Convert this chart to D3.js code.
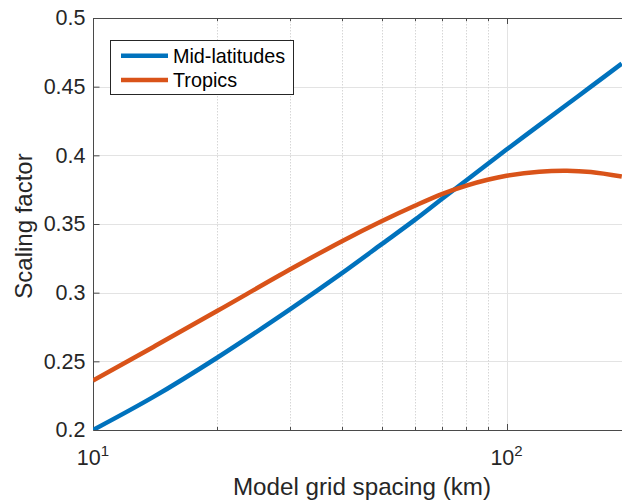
<!DOCTYPE html>
<html>
<head>
<meta charset="utf-8">
<script src="https://cdn.jsdelivr.net/npm/d3@7"></script>
<style>
  body { margin: 0; background: #fff; }
  svg { display: block; font-family: "Liberation Sans", Arial, sans-serif; }
</style>
</head>
<body>
<div class="chart"></div>
<script>
// values
const spacing = [10, 14, 20, 30, 40, 50, 60, 70, 80, 90, 100, 120, 140, 160, 190]
const midLat  = [0.200, 0.2241, 0.2528, 0.288, 0.3142, 0.3355, 0.353, 0.3686, 0.3819, 0.3937, 0.4042, 0.422, 0.437, 0.450, 0.4668]
const tropics = [0.236, 0.2605, 0.2868, 0.317, 0.3375, 0.3522, 0.3633, 0.372, 0.378, 0.3822, 0.3851, 0.3881, 0.3888, 0.3878, 0.3845]
const seriesNames = ["Mid-latitudes", "Tropics"]
const seriesColors = ["#0072BD", "#D95319"]
const yTicks = [0.2, 0.25, 0.3, 0.35, 0.4, 0.45, 0.5]
const xMajor = [10, 100]
const xMinor = [20, 30, 40, 50, 60, 70, 80, 90, 200]

var width = 622
var height = 503
var plotL = 93, plotR = 631, plotT = 18, plotB = 430
var ink = "#262626"
var axisGrey = "#4a4a4a"

var svg = d3.select(".chart").append("svg")
  .attr("width", width)
  .attr("height", height)

var x = d3.scaleLog().domain([10, 200]).range([plotL, plotR])
var y = d3.scaleLinear().domain([0.2, 0.5]).range([plotB, plotT])
var px = v => Math.round(x(v)) + 0.5
var py = v => Math.round(y(v)) + 0.5

// grid
var grid = svg.append("g")
grid.selectAll(".hgrid")
  .data(yTicks.slice(1, -1))
  .enter().append("line")
  .attr("x1", plotL).attr("x2", plotR)
  .attr("y1", py).attr("y2", py)
  .attr("stroke", "#e3e3e3")
grid.selectAll(".vminor")
  .data(xMinor)
  .enter().append("line")
  .attr("x1", px).attr("x2", px)
  .attr("y1", plotT).attr("y2", plotB)
  .attr("stroke", "#d6d6d6")
  .attr("stroke-dasharray", "1.5,1.5")
grid.selectAll(".vmajor")
  .data(xMajor.slice(1))
  .enter().append("line")
  .attr("x1", px).attr("x2", px)
  .attr("y1", plotT).attr("y2", plotB)
  .attr("stroke", "#e3e3e3")

// box
svg.append("path")
  .attr("d", `M${plotR},${plotT + 0.5}H${plotL + 0.5}V${plotB + 0.5}H${plotR}`)
  .attr("fill", "none")
  .attr("stroke", axisGrey)

// y axis
var yAxis = svg.append("g")
  .attr("transform", `translate(${plotL + 0.5},0)`)
  .call(d3.axisLeft(y).tickValues(yTicks).tickSize(-6).tickPadding(8).tickFormat(d => String(d)))
yAxis.select(".domain").remove()
yAxis.selectAll("line").attr("stroke", axisGrey)
yAxis.selectAll("text")
  .attr("fill", ink)
  .attr("font-size", 21.5)
  .attr("font-family", "Liberation Sans, Arial, sans-serif")

// x ticks, bottom and top, pointing inward
var ticks = xMajor.map(d => ({v: d, len: 6})).concat(xMinor.map(d => ({v: d, len: 3})))
svg.selectAll(".xtickb")
  .data(ticks)
  .enter().append("line")
  .attr("x1", d => px(d.v)).attr("x2", d => px(d.v))
  .attr("y1", plotB).attr("y2", d => plotB - d.len)
  .attr("stroke", axisGrey)
svg.selectAll(".xtickt")
  .data(ticks)
  .enter().append("line")
  .attr("x1", d => px(d.v)).attr("x2", d => px(d.v))
  .attr("y1", plotT).attr("y2", d => plotT + d.len)
  .attr("stroke", axisGrey)

// 10^n labels
var xl = svg.selectAll(".xlab")
  .data(xMajor)
  .enter().append("text")
  .attr("x", d => x(d))
  .attr("y", 465)
  .attr("text-anchor", "middle")
  .attr("fill", ink)
  .attr("font-size", 21.5)
xl.append("tspan").text("10")
xl.append("tspan")
  .attr("dy", -9)
  .attr("font-size", 15)
  .text(d => Math.round(Math.log10(d)))

// axis titles
svg.append("text")
  .attr("x", 362)
  .attr("y", 495)
  .attr("text-anchor", "middle")
  .attr("fill", ink)
  .attr("font-size", 24.2)
  .text("Model grid spacing (km)")
svg.append("text")
  .attr("transform", `translate(32,${(plotT + plotB) / 2 + 2}) rotate(-90)`)
  .attr("text-anchor", "middle")
  .attr("fill", ink)
  .attr("font-size", 24)
  .text("Scaling factor")

// lines
svg.append("clipPath").attr("id", "plotclip")
  .append("rect").attr("x", plotL).attr("y", plotT).attr("width", plotR - plotL).attr("height", plotB - plotT)

var line = d3.line()
  .x(d => x(d[0]))
  .y(d => y(d[1]))
  .curve(d3.curveCatmullRom.alpha(0.5))

var series = [midLat, tropics].map(vals => spacing.map((s, i) => [s, vals[i]]))
svg.append("g").attr("clip-path", "url(#plotclip)")
  .selectAll("path")
  .data(series)
  .enter().append("path")
  .attr("d", line)
  .attr("fill", "none")
  .attr("stroke", (d, i) => seriesColors[i])
  .attr("stroke-width", 4.5)
  .attr("stroke-linejoin", "round")

// legend
var lg = svg.append("g")
lg.append("rect")
  .attr("x", 110.5).attr("y", 40.5)
  .attr("width", 183).attr("height", 54)
  .attr("fill", "#fff")
  .attr("stroke", ink)
var items = lg.selectAll(".item")
  .data(seriesNames)
  .enter().append("g")
  .attr("transform", (d, i) => `translate(0,${55.7 + i * 24.3})`)
items.append("line")
  .attr("x1", 121).attr("x2", 168)
  .attr("stroke", (d, i) => seriesColors[i])
  .attr("stroke-width", 4.5)
items.append("text")
  .attr("x", 173)
  .attr("dy", "0.36em")
  .attr("fill", "#000")
  .attr("font-size", 19.8)
  .text(d => d)
</script>
</body>
</html>
